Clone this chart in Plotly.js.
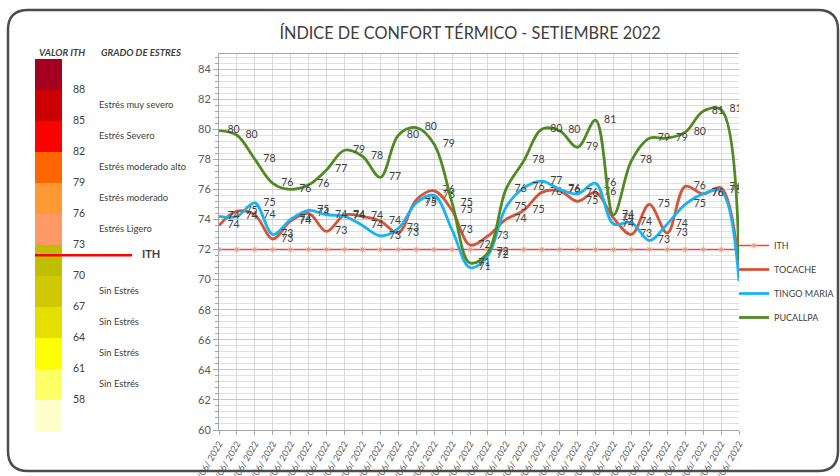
<!DOCTYPE html>
<html>
<head>
<meta charset="utf-8">
<script src="https://cdn.plot.ly/plotly-3.0.1.min.js"></script>
<style>html,body{margin:0;padding:0;background:#fff;}#chart{width:840px;height:476px;}</style>
</head>
<body>
<div id="chart"></div>
<script>
// ---------- data ----------
const dates = ["01/06/ 2022","02/06/ 2022","03/06/ 2022","04/06/ 2022","05/06/ 2022","06/06/ 2022","07/06/ 2022","08/06/ 2022","09/06/ 2022","10/06/ 2022","11/06/ 2022","12/06/ 2022","13/06/ 2022","14/06/ 2022","15/06/ 2022","16/06/ 2022","17/06/ 2022","18/06/ 2022","19/06/ 2022","20/06/ 2022","21/06/ 2022","22/06/ 2022","23/06/ 2022","24/06/ 2022","25/06/ 2022","26/06/ 2022","27/06/ 2022","28/06/ 2022","29/06/ 2022","30/06/ 2022"];
const ith = [72,72,72,72,72,72,72,72,72,72,72,72,72,72,72,72,72,72,72,72,72,72,72,72,72,72,72,72,72,72];
const tocache = [73.6,74.55,74.3,72.7,73.9,74.4,73.2,74.3,74.2,73.9,73.1,75.3,75.9,74.6,72.3,72.9,74.0,74.6,75.8,75.9,75.2,75.8,74.1,73.0,75.0,73.1,76.2,75.7,76.1,70.8];
const tingoMaria = [74.2,74.2,75.1,73.0,74.0,74.6,74.3,74.2,73.6,72.9,73.4,75.1,75.6,73.3,70.8,71.6,74.8,76.1,76.55,76.0,75.7,76.4,73.7,73.8,72.6,73.7,75.0,75.7,75.9,69.9];
const pucallpa = [79.9,79.6,78.0,76.4,76.0,76.3,77.3,78.6,78.2,76.8,79.6,80.1,79.0,75.1,71.1,71.8,76.0,77.9,80.0,79.9,78.8,80.6,74.3,77.9,79.4,79.4,79.8,81.2,81.3,71.3];
const seriesNames = ["ITH","TOCACHE","TINGO MARIA","PUCALLPA"];

// scale of the ITH legend (left panel)
const ithThresholds = [58,61,64,67,70,73,76,79,82,85,88];
const bandLows = [55,58,61,64,67,70,73,76,79,82,85,88];
const bandHighs = [58,61,64,67,70,73,76,79,82,85,88,91];
const bandColors = ["#FFFFCC","#FFFF66","#FFFF00","#E3E000","#D0C800","#BFBF00","#FF9966","#FF9933","#FF6600","#FF0000","#CC0000","#A50021"];
const gradeLabels = ["Sin Estrés","Sin Estrés","Sin Estrés","Sin Estrés","","Estrés Ligero","Estrés moderado","Estrés moderado alto","Estrés Severo","Estrés muy severo"];
const gradeLows = [58,61,64,67,70,73,76,79,82,85];
const gradeHighs = [61,64,67,70,73,76,79,82,85,88];
const ithValue = 72;

// ---------- layout helpers ----------
const W = 840, H = 476;
const FONT = "Lato, 'Open Sans', sans-serif";
const TXT = "#404040";
const px = v => v / W;
const py = v => 1 - v / H;

const traces = [];

// main series
traces.push({
  x: dates, y: ith, name: seriesNames[0], type: "scatter", mode: "lines+markers",
  line: {color: "#FF3B3B", width: 1.5},
  marker: {symbol: "asterisk-open", size: 5, color: "#D9A07A", line: {color: "#D9A07A", width: 1}},
  legendgroup: "g0", xaxis: "x", yaxis: "y", hoverinfo: "skip"
});
const styles = [
  {name: seriesNames[1], y: tocache, color: "#D5553A"},
  {name: seriesNames[2], y: tingoMaria, color: "#1AB2F0"},
  {name: seriesNames[3], y: pucallpa, color: "#4F8A22"}
];
styles.forEach((s, i) => {
  traces.push({
    x: dates, y: s.y, name: s.name, type: "scatter", mode: "lines+markers+text",
    line: {color: s.color, width: 2.8, shape: "spline", smoothing: 1},
    marker: {size: 12, color: "rgba(0,0,0,0)"},
    text: s.y.map(v => v.toFixed(0)), textposition: "middle right",
    textfont: {family: FONT, size: 10.5, color: TXT},
    legendgroup: "g" + (i + 1), xaxis: "x", yaxis: "y", hoverinfo: "skip"
  });
});

// left panel: colour scale
traces.push({
  type: "bar", x: bandLows.map(() => 48.5), y: bandLows.map((l, i) => bandHighs[i] - l), base: bandLows,
  width: 27, marker: {color: bandColors, line: {width: 0}},
  xaxis: "x2", yaxis: "y2", showlegend: false, hoverinfo: "skip"
});
traces.push({
  type: "scatter", mode: "text", x: ithThresholds.map(() => 73), y: ithThresholds,
  text: ithThresholds.map(String), textposition: "middle right",
  textfont: {family: FONT, size: 10.5, color: TXT},
  xaxis: "x2", yaxis: "y2", showlegend: false, hoverinfo: "skip"
});
traces.push({
  type: "scatter", mode: "text", x: gradeLabels.map(() => 99), y: gradeLows.map((l, i) => (l + gradeHighs[i]) / 2),
  text: gradeLabels, textposition: "middle right",
  textfont: {family: FONT, size: 9.4, color: TXT},
  xaxis: "x2", yaxis: "y2", showlegend: false, hoverinfo: "skip"
});
traces.push({
  type: "scatter", mode: "lines", x: [35, 132], y: [ithValue, ithValue],
  line: {color: "#FF0000", width: 2.5},
  xaxis: "x2", yaxis: "y2", showlegend: false, hoverinfo: "skip"
});
traces.push({
  type: "scatter", mode: "text", x: [142], y: [ithValue],
  text: ["<b>ITH</b>"], textposition: "middle right",
  textfont: {family: FONT, size: 11, color: TXT},
  xaxis: "x2", yaxis: "y2", showlegend: false, hoverinfo: "skip"
});

const r = 20;
const bx0 = 8, by0 = 10, bx1 = 838, by1 = 471;
const borderPath =
  `M ${px(bx0)},${py(by0 + r)} Q ${px(bx0)},${py(by0)} ${px(bx0 + r)},${py(by0)} ` +
  `L ${px(bx1 - r)},${py(by0)} Q ${px(bx1)},${py(by0)} ${px(bx1)},${py(by0 + r)} ` +
  `L ${px(bx1)},${py(by1 - r)} Q ${px(bx1)},${py(by1)} ${px(bx1 - r)},${py(by1)} ` +
  `L ${px(bx0 + r)},${py(by1)} Q ${px(bx0)},${py(by1)} ${px(bx0)},${py(by1 - r)} Z`;

const layout = {
  width: W, height: H,
  margin: {l: 0, r: 0, t: 0, b: 0, pad: 0, autoexpand: false},
  paper_bgcolor: "#ffffff", plot_bgcolor: "#ffffff",
  font: {family: FONT, color: TXT},
  showlegend: true,
  title: {
    text: "ÍNDICE DE CONFORT TÉRMICO - SETIEMBRE 2022",
    font: {family: FONT, size: 16.3, color: "#404040"},
    x: px(470), xanchor: "center", y: py(33), yanchor: "middle", automargin: false
  },
  xaxis: {
    domain: [px(219), px(739)], type: "category", range: [0, dates.length - 1],
    showgrid: true, gridcolor: "#D9D9D9", gridwidth: 1,
    showline: true, linecolor: "#A6A6A6", linewidth: 1, mirror: true,
    ticks: "outside", ticklen: 4, tickcolor: "#A6A6A6",
    tickangle: -60, tickfont: {family: FONT, size: 9, color: "#595959"},
    zeroline: false, automargin: false, fixedrange: true
  },
  yaxis: {
    domain: [py(430), py(54)], range: [60, 85], tick0: 60, dtick: 2,
    showgrid: true, gridcolor: "#C8C8C8", gridwidth: 1,
    minor: {dtick: 0.4, tick0: 60, showgrid: true, gridcolor: "#E0E0E0", gridwidth: 1, ticks: "outside", ticklen: 3, tickcolor: "#A6A6A6"},
    showline: true, linecolor: "#A6A6A6", linewidth: 1,
    ticks: "outside", ticklen: 5, tickcolor: "#A6A6A6",
    tickfont: {family: FONT, size: 11, color: "#595959"},
    zeroline: false, automargin: false, fixedrange: true
  },
  xaxis2: {domain: [0, px(200)], range: [0, 200], visible: false, fixedrange: true},
  yaxis2: {domain: [py(431), py(59)], range: [55, 91], visible: false, fixedrange: true, anchor: "x2"},
  barmode: "overlay", bargap: 0,
  legend: {
    x: px(734), y: py(231), xanchor: "left", yanchor: "top",
    font: {family: FONT, size: 9, color: TXT},
    bgcolor: "rgba(0,0,0,0)", itemwidth: 30, tracegroupgap: 5,
    traceorder: "grouped"
  },
  annotations: [
    {text: "<b><i>VALOR ITH</i></b>", x: px(37), y: py(52), xref: "paper", yref: "paper", xanchor: "left", yanchor: "middle", showarrow: false, font: {family: FONT, size: 9.6, color: TXT}},
    {text: "<b><i>GRADO DE ESTRES</i></b>", x: px(99), y: py(52), xref: "paper", yref: "paper", xanchor: "left", yanchor: "middle", showarrow: false, font: {family: FONT, size: 9.6, color: TXT}}
  ],
  shapes: [
    {type: "path", xref: "paper", yref: "paper", path: borderPath, line: {color: "#4D4D4D", width: 2.5}, fillcolor: "rgba(0,0,0,0)", layer: "above"}
  ]
};

Plotly.newPlot("chart", traces, layout, {staticPlot: true, displayModeBar: false});
</script>
</body>
</html>
